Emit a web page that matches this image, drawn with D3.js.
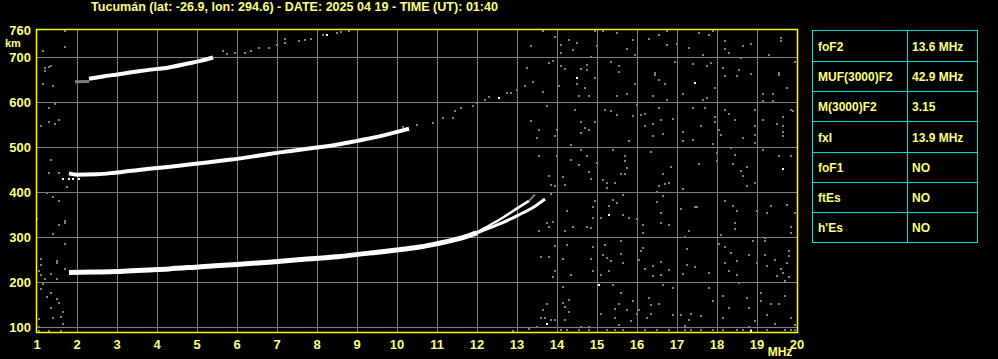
<!DOCTYPE html>
<html>
<head>
<meta charset="utf-8">
<script src="https://cdn.jsdelivr.net/npm/d3@7"></script>
<style>
    body { margin: 0; background: #000; }
    svg { display: block; font-family: "Liberation Sans", Arial, sans-serif; font-weight: bold; }
</style>
</head>
<body>
<svg id="chart" width="998" height="359"></svg>
<script>
// station / time header
const title = "Tucumán (lat: -26.9, lon: 294.6) - DATE: 2025 04 19 - TIME (UT): 01:40";

// axes
const freqTicks = d3.range(1, 21);
const heightGrid = [100, 200, 300, 400, 500, 600, 700];
const heightLabels = [100, 200, 300, 400, 500, 600, 700, 760];

// scaled parameters table
const paramNames = ["foF2", "MUF(3000)F2", "M(3000)F2", "fxI", "foF1", "ftEs", "h'Es"];
const paramValues = ["13.6 MHz", "42.9 MHz", "3.15", "13.9 MHz", "NO", "NO", "NO"];

// echo traces, [MHz, km]
const f1Hop = [[1.8, 222], [2.4, 223], [3.0, 224], [3.6, 227], [4.3, 230], [5.1, 235], [6.0, 240],
    [6.8, 245], [7.6, 251], [8.5, 257], [9.3, 265], [10.1, 273], [10.6, 279], [11.0, 286],
    [11.5, 296], [11.8, 304], [12.0, 310]];
const oBranch = [[12.0, 310], [12.2, 317], [12.6, 331], [13.05, 350], [13.45, 369], [13.7, 385]];
const xBranch = [[12.0, 311], [12.2, 321], [12.65, 344], [13.05, 367], [13.3, 381]];
const xTip = [[13.3, 381], [13.45, 395]];
const f2Hop = [[1.8, 442], [2.0, 439], [2.5, 440], [2.9, 443], [3.3, 447], [3.7, 451], [4.15, 455],
    [4.65, 460], [5.25, 466], [5.8, 472], [6.3, 478], [6.8, 485], [7.3, 491], [7.8, 497],
    [8.15, 501], [8.6, 507], [9.0, 514], [9.5, 523], [10.0, 534], [10.3, 541]];
const f2HopFaint = [[10.15, 544], [10.5, 549], [10.9, 554], [11.15, 565], [11.4, 565], [11.45, 581],
    [11.6, 587], [11.9, 591], [12.0, 598], [12.2, 605], [12.3, 611], [12.75, 620], [12.85, 620],
    [13.0, 627], [13.2, 635], [13.25, 676], [13.35, 724]];
const f3Hop = [[2.3, 652], [2.65, 657], [3.05, 662], [3.5, 668], [3.75, 671], [4.3, 677],
    [4.9, 688], [5.25, 695], [5.4, 699]];
const f3HopStart = [[1.95, 645], [2.3, 646]];
const f3HopFaint = [[5.65, 713], [5.75, 707], [5.95, 709], [6.2, 710], [6.35, 714], [6.55, 721],
    [6.8, 721], [7.0, 726], [7.2, 731], [7.2, 741], [7.55, 736], [7.7, 738], [7.85, 741],
    [8.15, 749], [8.5, 753], [8.6, 755], [8.8, 758]];

// bright isolated echoes
const brightDots = [[14.5, 653], [17.45, 642], [19.65, 452], [15.3, 350], [15.05, 195],
    [13.75, 108], [18.85, 92], [8.25, 749], [12.55, 609], [1.65, 429], [1.8, 429], [1.9, 429], [2.05, 429]];

// background noise
const noise = [
    [13.65, 758], [13.95, 745], [14.3, 738], [14.4, 716], [14.5, 731], [13.35, 725], [14.1, 727],
    [14.1, 709], [14.85, 699], [14.95, 757], [15.0, 725], [15.15, 758], [15.5, 753], [15.75, 718],
    [15.9, 738], [15.95, 705], [16.3, 740], [16.55, 748], [16.75, 727], [17.0, 729], [16.75, 758],
    [17.3, 720], [17.55, 753], [17.65, 705], [17.8, 749], [17.9, 758], [18.2, 735], [18.2, 718],
    [18.3, 709], [18.65, 724], [18.85, 729], [18.6, 698], [19.3, 705], [19.6, 742], [19.6, 736],
    [13.8, 687], [13.9, 691], [14.1, 680], [14.2, 674], [14.6, 674], [14.75, 683], [14.75, 671],
    [13.4, 645], [14.05, 636], [14.5, 640], [14.7, 631], [14.95, 653], [13.65, 622], [14.55, 613],
    [14.8, 613], [15.35, 689], [15.55, 680], [15.55, 667], [15.5, 613], [15.75, 619], [15.95, 640],
    [16.45, 665], [16.45, 660], [16.55, 650], [16.7, 640], [16.4, 613], [16.75, 605], [16.95, 689],
    [17.4, 685], [17.15, 618], [17.65, 605], [17.75, 609], [17.75, 680], [17.85, 687], [17.95, 631],
    [18.15, 676], [18.2, 657], [18.55, 671], [18.5, 657], [18.85, 662], [19.55, 665], [19.55, 660],
    [19.75, 631], [19.15, 618], [19.4, 618], [19.15, 603], [19.4, 603], [19.95, 689],
    [13.75, 592], [14.45, 583], [13.35, 559], [13.55, 539], [13.5, 520], [13.95, 525], [14.0, 539],
    [14.6, 556], [14.7, 543], [14.8, 539], [14.6, 531], [14.35, 504], [14.95, 555], [15.2, 583],
    [15.35, 581], [15.5, 571], [15.9, 570], [16.0, 593], [16.1, 572], [16.2, 574], [16.2, 548],
    [15.8, 514], [16.4, 551], [16.4, 525], [16.55, 587], [16.6, 561], [16.65, 529], [16.9, 563],
    [17.15, 534], [17.15, 513], [17.4, 587], [17.4, 515], [17.6, 548], [17.7, 587], [17.95, 568],
    [17.95, 557], [18.05, 539], [18.1, 528], [17.9, 507], [18.2, 583], [18.3, 574], [18.45, 561],
    [18.65, 520], [18.95, 583], [18.95, 546], [18.95, 528], [18.95, 509], [19.15, 561], [19.5, 551],
    [19.65, 568], [19.65, 546], [19.65, 534], [19.65, 524], [19.85, 583], [19.9, 580],
    [13.55, 481], [13.8, 437], [14.0, 480], [14.15, 433], [14.35, 472], [14.6, 494], [14.55, 460],
    [14.75, 480], [14.8, 446], [15.0, 465], [15.4, 494], [15.7, 480], [15.7, 469], [15.75, 454],
    [15.6, 441], [15.7, 441], [16.35, 489], [16.65, 441], [16.85, 457], [17.55, 463], [18.0, 487],
    [18.0, 469], [18.35, 498], [18.4, 463], [18.45, 483], [18.6, 448], [18.75, 457], [18.65, 437],
    [19.15, 494], [19.55, 481], [19.85, 481], [14.85, 430],
    [13.85, 417], [13.95, 413], [14.2, 417], [13.85, 396], [14.25, 359], [13.75, 332], [13.9, 333],
    [13.8, 324], [13.55, 315], [14.2, 315], [14.4, 322], [14.75, 324], [14.9, 367], [14.95, 381],
    [14.9, 344], [14.85, 321], [15.1, 343], [15.3, 369], [15.4, 383], [15.5, 376], [15.65, 395],
    [15.65, 350], [15.8, 344], [16.0, 341], [15.15, 428], [15.25, 420], [15.45, 420], [15.25, 409],
    [16.15, 328], [16.15, 310], [16.5, 400], [16.55, 415], [16.7, 418], [16.8, 420], [16.65, 391],
    [16.5, 378], [16.6, 355], [16.6, 332], [16.8, 328], [17.15, 408], [17.1, 363], [17.45, 367],
    [17.5, 367], [17.3, 315], [17.2, 300], [18.2, 381], [18.4, 369], [18.5, 359], [18.45, 332],
    [18.45, 318], [18.1, 306], [18.75, 413], [18.95, 420], [19.0, 359], [19.25, 354], [19.35, 369],
    [19.75, 372], [19.95, 355], [19.85, 324], [19.85, 310], [19.2, 298], [19.2, 292], [18.9, 292],
    [13.95, 280], [13.6, 256], [13.8, 256], [14.15, 252], [13.95, 226], [13.9, 212], [14.35, 217],
    [14.25, 284], [14.9, 278], [14.85, 252], [14.9, 225], [15.1, 217], [15.15, 260], [15.25, 254],
    [15.35, 248], [15.2, 284], [15.6, 292], [15.6, 263], [15.65, 243], [15.3, 226], [16.1, 270],
    [16.15, 276], [16.05, 250], [16.2, 230], [16.4, 236], [16.4, 214], [16.6, 245], [16.6, 217],
    [16.8, 228], [17.25, 275], [17.25, 239], [17.15, 219], [17.45, 234], [17.8, 222], [18.05, 285],
    [18.2, 278], [18.35, 265], [18.5, 248], [18.2, 243], [18.3, 225], [18.5, 217], [18.8, 261],
    [19.0, 243], [19.2, 260], [19.45, 250], [19.25, 236], [19.5, 214], [19.6, 230], [19.65, 221],
    [19.75, 243], [19.8, 258], [19.8, 269], [19.8, 211], [19.7, 204],
    [14.15, 190], [13.75, 152], [13.65, 139], [14.15, 154], [14.2, 145], [14.3, 162], [14.3, 134],
    [13.6, 121], [13.7, 121], [13.85, 116], [13.95, 117], [14.2, 117], [14.6, 102], [14.8, 102],
    [15.1, 130], [15.4, 195], [15.45, 141], [15.6, 176], [15.55, 152], [15.45, 122], [15.55, 106],
    [15.75, 139], [15.85, 115], [16.0, 130], [15.9, 158], [16.05, 139], [16.3, 165], [16.35, 150],
    [16.55, 152], [16.25, 121], [16.35, 130], [16.65, 195], [16.9, 187], [16.9, 128], [17.1, 128],
    [17.2, 104], [17.3, 117], [17.35, 130], [17.6, 126], [17.8, 187], [17.9, 158], [18.15, 169],
    [18.15, 122], [18.3, 143], [18.55, 199], [18.8, 143], [18.75, 165], [18.8, 102], [18.95, 114],
    [19.1, 176], [19.1, 158], [19.25, 127], [19.35, 152], [19.55, 152], [19.45, 108], [19.7, 169],
    [19.85, 122], [19.95, 106],
    [14.1, 95], [14.25, 95], [14.55, 95], [14.8, 95], [15.25, 95], [15.45, 95], [15.65, 95],
    [16.2, 95], [16.5, 95], [16.8, 95], [17.2, 95], [17.35, 95], [17.6, 95], [17.9, 95],
    [18.15, 95], [18.5, 95], [18.65, 95], [18.85, 95], [19.25, 95], [19.7, 95], [19.85, 95],
    [19.95, 95], [13.5, 100], [13.3, 97], [12.9, 93],
    [1.25, 399], [1.4, 389], [1.55, 380], [1.7, 332], [1.7, 337], [1.55, 327], [1.4, 307], [1.7, 285],
    [1.1, 252], [1.1, 238], [1.5, 242], [1.5, 247], [1.05, 225], [1.1, 216], [1.2, 208], [1.35, 218],
    [1.5, 207], [1.7, 230], [1.15, 196], [1.1, 186], [1.35, 176], [1.25, 168], [1.5, 164],
    [1.55, 155], [1.35, 144], [1.65, 134], [1.6, 124], [1.4, 122], [1.05, 118], [1.65, 107],
    [1.3, 92], [1.6, 92], [1.75, 412], [1.0, 341], [1.05, 100], [1.05, 92],
    [1.7, 758], [1.15, 714], [1.7, 722], [1.2, 670], [1.2, 675], [1.3, 677], [1.35, 681], [1.15, 641],
    [1.4, 636], [1.3, 587], [1.45, 596], [1.3, 556], [1.55, 561], [1.45, 551], [1.1, 546],
    [1.35, 472], [1.3, 442], [1.55, 442]
];

const width = 998, height = 359;
const svg = d3.select('#chart');
svg.append('rect').attr('width', width).attr('height', height).attr('fill', '#000');

const x = d3.scaleLinear().domain([1, 20]).range([37, 797]);
const y = d3.scaleLinear().domain([90, 760]).range([332, 30]);

const textColor = '#ffff80';
const gridColor = '#808080';

// title
svg.append('text')
    .attr('x', 91).attr('y', 11)
    .attr('textLength', 407).attr('lengthAdjust', 'spacingAndGlyphs')
    .attr('font-size', 12).attr('fill', textColor)
    .text(title);

// grid
const grid = svg.append('g').attr('shape-rendering', 'crispEdges');
grid.selectAll('line.v')
    .data(freqTicks.slice(1, -1))
    .enter().append('line')
    .attr('class', 'v')
    .attr('x1', d => Math.round(x(d)) + 0.5).attr('x2', d => Math.round(x(d)) + 0.5)
    .attr('y1', y.range()[1]).attr('y2', y.range()[0])
    .attr('stroke', gridColor);
grid.selectAll('line.h')
    .data(heightGrid)
    .enter().append('line')
    .attr('class', 'h')
    .attr('x1', x.range()[0]).attr('x2', x.range()[1])
    .attr('y1', d => Math.round(y(d)) + 0.5).attr('y2', d => Math.round(y(d)) + 0.5)
    .attr('stroke', gridColor);

// noise
const plot = svg.append('g');
function dots(data, color) {
    plot.selectAll(null)
        .data(data)
        .enter().append('rect')
        .attr('x', d => Math.round(x(d[0])) - 1)
        .attr('y', d => Math.round(y(d[1])) - 1)
        .attr('width', 2).attr('height', 2)
        .attr('shape-rendering', 'crispEdges')
        .attr('fill', color);
}
dots(noise, gridColor);
dots(f2HopFaint, gridColor);
dots(f3HopFaint, gridColor);

const line = d3.line()
    .x(d => x(d[0]))
    .y(d => y(d[1]))
    .curve(d3.curveMonotoneX);

function trace(data, color, w) {
    plot.append('path')
        .datum(data)
        .attr('d', line)
        .attr('fill', 'none')
        .attr('stroke', color)
        .attr('stroke-width', w);
}
trace(f3HopStart, gridColor, 3);
trace(f3Hop, '#fff', 4);
trace(f2Hop, '#fff', 4);
trace(f1Hop, '#fff', 5);
trace(oBranch, '#fff', 3);
trace(xBranch, '#fff', 2.5);
trace(xTip, gridColor, 2);
dots(brightDots, '#fff');

// frame
svg.append('rect')
    .attr('x', x.range()[0] - 0.5).attr('y', y.range()[1] - 0.5)
    .attr('width', x.range()[1] - x.range()[0] + 1)
    .attr('height', y.range()[0] - y.range()[1] + 1)
    .attr('fill', 'none').attr('stroke', '#ffff00').attr('stroke-width', 1.5);

// axis labels
svg.append('g').selectAll('text')
    .data(freqTicks)
    .enter().append('text')
    .attr('x', d => x(d)).attr('y', 349)
    .attr('text-anchor', 'middle')
    .attr('font-size', 13).attr('fill', textColor)
    .text(d => d);
svg.append('text')
    .attr('x', 780).attr('y', 356)
    .attr('text-anchor', 'middle')
    .attr('font-size', 12).attr('fill', textColor)
    .text('MHz');

svg.append('g').selectAll('text')
    .data(heightLabels)
    .enter().append('text')
    .attr('x', 31).attr('y', d => y(d) + 4.5)
    .attr('text-anchor', 'end')
    .attr('font-size', 13).attr('fill', textColor)
    .text(d => d);
svg.append('text')
    .attr('x', 5).attr('y', 47)
    .attr('font-size', 11).attr('fill', textColor)
    .text('km');

// parameters table
const rowY = d3.scaleLinear().domain([0, paramNames.length]).range([30.5, 242.5]);
const colX = [812.5, 907.5, 977.5];
const table = svg.append('g');
const tableColor = '#00e0e0';

table.append('rect')
    .attr('x', colX[0]).attr('y', rowY(0))
    .attr('width', colX[2] - colX[0]).attr('height', rowY(paramNames.length) - rowY(0))
    .attr('fill', 'none').attr('stroke', tableColor);
table.append('line')
    .attr('x1', colX[1]).attr('x2', colX[1])
    .attr('y1', rowY(0)).attr('y2', rowY(paramNames.length))
    .attr('stroke', tableColor);
table.selectAll('line.row')
    .data(d3.range(1, paramNames.length))
    .enter().append('line')
    .attr('class', 'row')
    .attr('x1', colX[0]).attr('x2', colX[2])
    .attr('y1', d => Math.round(rowY(d)) + 0.5).attr('y2', d => Math.round(rowY(d)) + 0.5)
    .attr('stroke', tableColor);
table.selectAll('text.name')
    .data(paramNames)
    .enter().append('text')
    .attr('class', 'name')
    .attr('x', 818).attr('y', (d, i) => (rowY(i) + rowY(i + 1)) / 2 + 5)
    .attr('font-size', 12).attr('fill', textColor)
    .text(d => d);
table.selectAll('text.value')
    .data(paramValues)
    .enter().append('text')
    .attr('class', 'value')
    .attr('x', 912).attr('y', (d, i) => (rowY(i) + rowY(i + 1)) / 2 + 5)
    .attr('font-size', 12).attr('fill', textColor)
    .text(d => d);
</script>
</body>
</html>
